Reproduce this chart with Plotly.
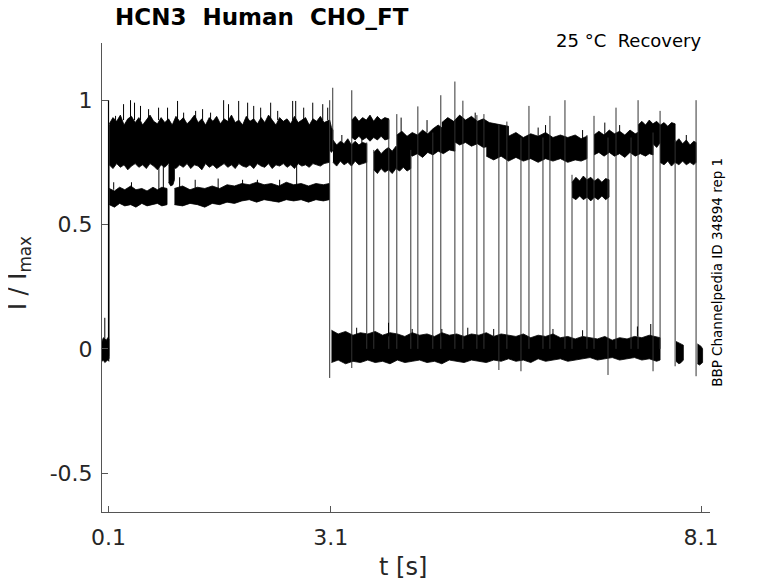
import plotly.graph_objects as go

# ---- values (t in s, I/Imax) ----
# baseline before the step
pre_t = [0.012, 0.03, 0.05, 0.07, 0.09, 0.105]
pre_hi = [0.03, 0.045, 0.04, 0.035, 0.045, 0.04]
pre_lo = [-0.05, -0.045, -0.055, -0.05, -0.045, -0.05]

# upper level during the conditioning step
up_t = [0.11, 0.16, 0.21, 0.26, 0.31, 0.36, 0.41, 0.46, 0.51, 0.56, 0.61, 0.66, 0.71, 0.76,
        0.81, 0.86, 0.91, 0.96, 1.01, 1.06, 1.11, 1.16, 1.21, 1.26, 1.31, 1.36, 1.41, 1.46,
        1.51, 1.56, 1.61, 1.66, 1.71, 1.76, 1.81, 1.86, 1.91, 1.96, 2.01, 2.06, 2.11, 2.16,
        2.21, 2.26, 2.31, 2.36, 2.41, 2.46, 2.51, 2.56, 2.61, 2.66, 2.71, 2.76, 2.81, 2.86,
        2.91, 2.96, 3.01, 3.08]
up_hi = [0.905, 0.93, 0.915, 0.94, 0.90, 0.925, 0.935, 0.91, 0.93, 0.90, 0.92, 0.94, 0.915,
         0.905, 0.93, 0.91, 0.925, 0.90, 0.935, 0.915, 0.93, 0.905, 0.92, 0.94, 0.91, 0.925,
         0.90, 0.93, 0.915, 0.935, 0.905, 0.925, 0.915, 0.94, 0.91, 0.92, 0.90, 0.935, 0.915,
         0.925, 0.905, 0.93, 0.91, 0.94, 0.92, 0.90, 0.93, 0.915, 0.925, 0.905, 0.935, 0.91,
         0.92, 0.93, 0.90, 0.925, 0.915, 0.935, 0.91, 0.92]
up_lo = [0.74, 0.725, 0.745, 0.73, 0.74, 0.72, 0.735, 0.745, 0.73, 0.74, 0.725, 0.745, 0.735,
         0.72, 0.74, 0.73, 0.745, 0.735, 0.725, 0.74, 0.73, 0.745, 0.725, 0.74, 0.735, 0.72,
         0.745, 0.73, 0.74, 0.725, 0.735, 0.745, 0.73, 0.74, 0.725, 0.745, 0.735, 0.73, 0.74,
         0.725, 0.745, 0.735, 0.73, 0.745, 0.725, 0.74, 0.735, 0.745, 0.73, 0.74, 0.725, 0.745,
         0.735, 0.74, 0.73, 0.745, 0.74, 0.735, 0.745, 0.75]

# lower level during the conditioning step (two pieces)
lo1_t = [0.11, 0.18, 0.25, 0.32, 0.4, 0.47, 0.55, 0.62, 0.7, 0.76, 0.82, 0.89]
lo1_hi = [0.645, 0.635, 0.65, 0.64, 0.655, 0.64, 0.645, 0.635, 0.65, 0.64, 0.65, 0.645]
lo1_lo = [0.58, 0.57, 0.585, 0.575, 0.58, 0.57, 0.585, 0.575, 0.58, 0.585, 0.575, 0.58]
lo2_t = [0.99, 1.1, 1.2, 1.3, 1.4, 1.5, 1.6, 1.7, 1.8, 1.9, 2.0, 2.1, 2.2, 2.3, 2.4, 2.5,
         2.6, 2.7, 2.8, 2.9, 3.0, 3.08]
lo2_hi = [0.645, 0.655, 0.64, 0.65, 0.645, 0.655, 0.645, 0.66, 0.655, 0.665, 0.66, 0.67,
          0.66, 0.665, 0.655, 0.67, 0.66, 0.665, 0.655, 0.665, 0.66, 0.665]
lo2_lo = [0.58, 0.575, 0.585, 0.58, 0.57, 0.585, 0.58, 0.59, 0.585, 0.595, 0.6, 0.59, 0.6,
          0.595, 0.59, 0.6, 0.595, 0.6, 0.59, 0.6, 0.595, 0.6]
dip_t = [0.91, 0.94, 0.97, 0.99]
dip_hi = [0.74, 0.745, 0.74, 0.74]
dip_lo = [0.67, 0.655, 0.66, 0.68]

# zero level after the step
zero_t = [3.11, 3.2, 3.3, 3.4, 3.5, 3.6, 3.7, 3.8, 3.9, 4.0, 4.1, 4.2, 4.3, 4.4, 4.5, 4.6,
          4.7, 4.8, 4.9, 5.0, 5.1, 5.2, 5.3, 5.4, 5.5, 5.6, 5.7, 5.8, 5.9, 6.0, 6.1, 6.2,
          6.3, 6.4, 6.5, 6.6, 6.7, 6.8, 6.9, 7.0, 7.1, 7.2, 7.3, 7.4, 7.5, 7.546]
zero_hi = [0.075, 0.06, 0.07, 0.055, 0.065, 0.06, 0.07, 0.055, 0.065, 0.06, 0.05, 0.065,
           0.055, 0.06, 0.05, 0.065, 0.055, 0.06, 0.05, 0.06, 0.055, 0.065, 0.05, 0.06,
           0.055, 0.05, 0.06, 0.045, 0.055, 0.05, 0.06, 0.045, 0.05, 0.04, 0.05, 0.045,
           0.04, 0.05, 0.035, 0.045, 0.04, 0.05, 0.045, 0.055, 0.05, 0.045]
zero_lo = [-0.055, -0.045, -0.06, -0.05, -0.055, -0.045, -0.055, -0.05, -0.06, -0.045,
           -0.055, -0.05, -0.045, -0.055, -0.05, -0.06, -0.045, -0.05, -0.055, -0.045,
           -0.05, -0.055, -0.045, -0.05, -0.04, -0.05, -0.045, -0.055, -0.04, -0.05, -0.045,
           -0.04, -0.05, -0.045, -0.04, -0.035, -0.045, -0.04, -0.035, -0.045, -0.04,
           -0.035, -0.045, -0.04, -0.05, -0.045]
blob1_t = [7.76, 7.8, 7.83, 7.86]
blob1_hi = [0.03, 0.025, 0.02, 0.015]
blob1_lo = [-0.05, -0.06, -0.055, -0.045]
blob2_t = [8.05, 8.08, 8.1, 8.12]
blob2_hi = [0.02, 0.015, 0.01, 0.0]
blob2_lo = [-0.06, -0.065, -0.06, -0.055]

# test-pulse levels after 3.1 s (one list per sweep piece)
seg_t = [
    [3.086, 3.11, 3.13],
    [3.13, 3.18, 3.23, 3.28, 3.33, 3.38, 3.43, 3.48, 3.53, 3.586],
    [3.384, 3.43, 3.48, 3.53, 3.58, 3.63, 3.68, 3.73, 3.78, 3.83, 3.884],
    [3.681, 3.73, 3.78, 3.83, 3.88, 3.93, 3.98, 4.03, 4.08, 4.13, 4.181],
    [3.992, 4.06, 4.13, 4.2, 4.27, 4.34, 4.41, 4.48, 4.55, 4.62, 4.7, 4.776],
    [4.6, 4.68, 4.76, 4.84, 4.92, 5.0, 5.08, 5.16, 5.24, 5.32, 5.4, 5.5],
    [5.2, 5.3, 5.4, 5.5, 5.6, 5.7, 5.8, 5.9, 6.0, 6.1, 6.2, 6.3, 6.4, 6.48, 6.559],
    [6.357, 6.41, 6.46, 6.51, 6.56, 6.61, 6.66, 6.71, 6.76, 6.81, 6.857],
    [6.654, 6.72, 6.79, 6.86, 6.93, 7.0, 7.07, 7.14, 7.21, 7.28, 7.35, 7.4, 7.451],
    [7.249, 7.3, 7.35, 7.4, 7.45, 7.5, 7.55, 7.6, 7.65, 7.7, 7.749],
    [7.546, 7.6, 7.65, 7.7, 7.75, 7.8, 7.85, 7.9, 7.95, 8.0, 8.032],
]
seg_hi = [
    [0.92, 0.89, 0.88],
    [0.84, 0.82, 0.835, 0.825, 0.845, 0.82, 0.835, 0.82, 0.83, 0.825],
    [0.92, 0.935, 0.915, 0.93, 0.92, 0.94, 0.915, 0.935, 0.92, 0.93, 0.925],
    [0.79, 0.805, 0.785, 0.80, 0.81, 0.795, 0.815, 0.80, 0.81, 0.795, 0.81],
    [0.86, 0.875, 0.855, 0.87, 0.86, 0.88, 0.865, 0.885, 0.90, 0.885, 0.895, 0.89],
    [0.91, 0.93, 0.915, 0.94, 0.92, 0.935, 0.915, 0.925, 0.91, 0.905, 0.90, 0.895],
    [0.875, 0.86, 0.875, 0.855, 0.87, 0.85, 0.865, 0.855, 0.87, 0.85, 0.86, 0.85, 0.86,
     0.845, 0.855],
    [0.67, 0.69, 0.675, 0.695, 0.68, 0.69, 0.675, 0.685, 0.67, 0.685, 0.68],
    [0.86, 0.875, 0.86, 0.88, 0.865, 0.875, 0.86, 0.88, 0.865, 0.875, 0.86, 0.87, 0.865],
    [0.90, 0.915, 0.90, 0.92, 0.905, 0.915, 0.90, 0.91, 0.895, 0.91, 0.905],
    [0.83, 0.845, 0.825, 0.84, 0.83, 0.845, 0.825, 0.84, 0.82, 0.835, 0.83],
]
seg_lo = [
    [0.80, 0.79, 0.80],
    [0.75, 0.735, 0.755, 0.74, 0.75, 0.735, 0.755, 0.74, 0.745, 0.75],
    [0.85, 0.84, 0.855, 0.84, 0.85, 0.835, 0.85, 0.84, 0.855, 0.84, 0.845],
    [0.72, 0.705, 0.725, 0.71, 0.72, 0.705, 0.725, 0.715, 0.73, 0.715, 0.725],
    [0.785, 0.775, 0.79, 0.775, 0.785, 0.77, 0.79, 0.78, 0.795, 0.785, 0.80, 0.795],
    [0.83, 0.82, 0.835, 0.82, 0.83, 0.815, 0.825, 0.81, 0.815, 0.80, 0.81, 0.80],
    [0.775, 0.76, 0.775, 0.755, 0.77, 0.755, 0.765, 0.75, 0.765, 0.755, 0.765, 0.75,
     0.76, 0.755, 0.765],
    [0.61, 0.60, 0.615, 0.60, 0.61, 0.595, 0.61, 0.60, 0.615, 0.60, 0.61],
    [0.78, 0.79, 0.775, 0.79, 0.775, 0.785, 0.77, 0.79, 0.775, 0.785, 0.775, 0.785, 0.78],
    [0.825, 0.81, 0.83, 0.815, 0.825, 0.81, 0.83, 0.815, 0.825, 0.815, 0.83],
    [0.75, 0.74, 0.755, 0.735, 0.75, 0.74, 0.755, 0.74, 0.75, 0.74, 0.75],
]

# channel switching lines
jump_t = [3.086, 3.127, 3.384, 3.586, 3.681, 3.884, 3.992, 4.181, 4.276, 4.478, 4.586,
          4.776, 4.884, 5.073, 5.168, 5.37, 5.478, 5.668, 5.776, 5.965, 6.059, 6.262,
          6.357, 6.559, 6.654, 6.843, 6.951, 7.154, 7.249, 7.451, 7.546, 7.749, 8.032]
jump_top = [1.0, 1.05, 1.04, 0.83, 0.8, 0.92, 0.944, 0.8, 0.975, 0.87, 1.02, 1.075, 0.998,
            0.94, 0.944, 0.9, 0.914, 0.85, 0.977, 0.85, 0.937, 1.0, 0.7, 0.86, 0.937, 0.85,
            0.97, 0.85, 1.0, 0.87, 0.957, 0.84, 1.0]
jump_bot = [-0.117, 0.8, -0.077, 0.0, 0.0, 0.0, 0.0, 0.0, 0.0, 0.0, 0.0, 0.0, 0.0, 0.0, 0.0,
            -0.085, 0.0, -0.09, 0.0, 0.0, 0.0, 0.0, 0.0, 0.0, 0.0, -0.105, 0.0, 0.0, 0.0,
            -0.09, 0.0, -0.07, -0.11]
step_t = [0.1, 0.105]
step_top = [1.0, 0.9]
step_bot = [-0.03, -0.04]

# noise spikes (time, base, peak)
spk_t = [0.195, 0.303, 0.397, 0.451, 0.532, 0.641, 0.776, 0.897, 1.032, 1.114, 1.276,
         1.37, 1.478, 1.654, 1.72, 1.857, 1.978, 2.06, 2.154, 2.289, 2.384, 2.586,
         2.627, 2.735, 2.857, 2.992, 3.059,
         0.17, 0.41, 1.06, 1.27, 1.58, 1.91, 2.11, 2.41,
         0.78, 0.84, 2.64,
         3.88, 4.2, 4.95, 5.3, 6.1, 7.24, 7.42, 0.05, 3.45, 4.6, 6.5,
         3.52, 4.05, 5.05, 6.0, 6.5, 7.0, 7.65, 3.25, 4.4, 5.9, 6.8, 7.9]
spk_base = [0.92] * 27 + [0.64] * 8 + [0.6, 0.6, 0.62] + [0.05] * 7 + [0.03] + \
           [0.05] * 3 + [0.82, 0.86, 0.9, 0.84, 0.84, 0.85, 0.82, 0.82, 0.87, 0.84, 0.86,
                         0.82]
spk_peak = [0.937, 0.984, 1.0, 0.99, 0.977, 0.964, 0.97, 0.97, 0.997, 0.95, 0.957,
            0.964, 0.95, 1.0, 0.984, 0.997, 0.99, 0.977, 0.97, 0.99, 0.957, 0.997,
            0.997, 0.97, 0.99, 0.984, 0.97,
            0.67, 0.67, 0.69, 0.68, 0.685, 0.68, 0.68, 0.68,
            0.75, 0.75, 0.75,
            0.105, 0.08, 0.085, 0.08, 0.08, 0.09, 0.1, 0.125, 0.085, 0.08, 0.075,
            0.9, 0.93, 0.95, 0.9, 0.88, 0.9, 0.88, 0.86, 0.92, 0.89, 0.91, 0.86]

xticks = [0.1, 3.1, 8.1]
xtick_text = ["0.1", "3.1", "8.1"]
yticks = [-0.5, 0, 0.5, 1]
ytick_text = ["-0.5", "0", "0.5", "1"]

FONT = "DejaVu Sans, Liberation Sans, sans-serif"
INK = "black"

fig = go.Figure()


def band(t, hi, lo):
    fig.add_trace(go.Scatter(x=list(t) + list(t)[::-1], y=list(hi) + list(lo)[::-1],
                             fill="toself", fillcolor=INK, mode="lines",
                             line=dict(color=INK, width=0.8), hoverinfo="skip"))


def vlines(ts, y0s, y1s, width=1.0, color=INK):
    xs, ys = [], []
    for t, a, b in zip(ts, y0s, y1s):
        xs += [t, t, None]
        ys += [a, b, None]
    fig.add_trace(go.Scatter(x=xs, y=ys, mode="lines",
                             line=dict(color=color, width=width), hoverinfo="skip"))


band(pre_t, pre_hi, pre_lo)
band(up_t, up_hi, up_lo)
band(lo1_t, lo1_hi, lo1_lo)
band(lo2_t, lo2_hi, lo2_lo)
band(dip_t, dip_hi, dip_lo)
band(zero_t, zero_hi, zero_lo)
band(blob1_t, blob1_hi, blob1_lo)
band(blob2_t, blob2_hi, blob2_lo)
for t, hi, lo in zip(seg_t, seg_hi, seg_lo):
    band(t, hi, lo)

vlines(jump_t, jump_bot, jump_top, width=1.0, color="#333")
vlines(step_t, step_bot, step_top, width=1.2)
vlines(spk_t, spk_base, spk_peak, width=1.0)

axis_common = dict(showgrid=False, zeroline=False, showline=True, linecolor="#555",
                   linewidth=1, ticks="inside", ticklen=6, tickwidth=1, tickcolor="#555",
                   tickfont=dict(family=FONT, size=22, color="#262626"), mirror=False)

# page has an 8 px body margin, so the figure is drawn 8 px smaller and offset
fig.update_layout(
    width=770, height=575, showlegend=False,
    paper_bgcolor="white", plot_bgcolor="white",
    margin=dict(l=94, r=68, t=35, b=71),
    xaxis=dict(range=[0.012, 8.22], tickmode="array", tickvals=xticks,
               ticktext=xtick_text, ticklabelstandoff=6, **axis_common),
    yaxis=dict(range=[-0.656, 1.23], tickmode="array", tickvals=yticks,
               ticktext=ytick_text, ticklabelstandoff=4, **axis_common),
    annotations=[
        dict(text="<b>HCN3\u00a0 Human\u00a0 CHO_FT</b>", xref="paper", yref="paper",
             x=0.018, y=1.055, xanchor="left", yanchor="middle", showarrow=False,
             font=dict(family=FONT, size=23, color="black")),
        dict(text="25 °C\u00a0 Recovery", xref="paper", yref="paper",
             x=0.9885, y=1.006, xanchor="right", yanchor="middle", showarrow=False,
             font=dict(family=FONT, size=18, color="black")),
        dict(text="t [s]", xref="paper", yref="paper", x=0.495, y=-0.117,
             xanchor="center", yanchor="middle", showarrow=False,
             font=dict(family=FONT, size=24, color="#262626")),
        dict(text="I / I<sub>max</sub>", xref="paper", yref="paper", x=-0.136, y=0.51,
             xanchor="center", yanchor="middle", textangle=-90, showarrow=False,
             font=dict(family=FONT, size=24, color="#262626")),
        dict(text="BBP Channelpedia ID 34894 rep 1", xref="paper", yref="paper",
             x=1.0115, y=0.512, xanchor="center", yanchor="middle", textangle=-90,
             showarrow=False, font=dict(family=FONT, size=13.5, color="black")),
    ],
)

fig.write_html("out.html")
